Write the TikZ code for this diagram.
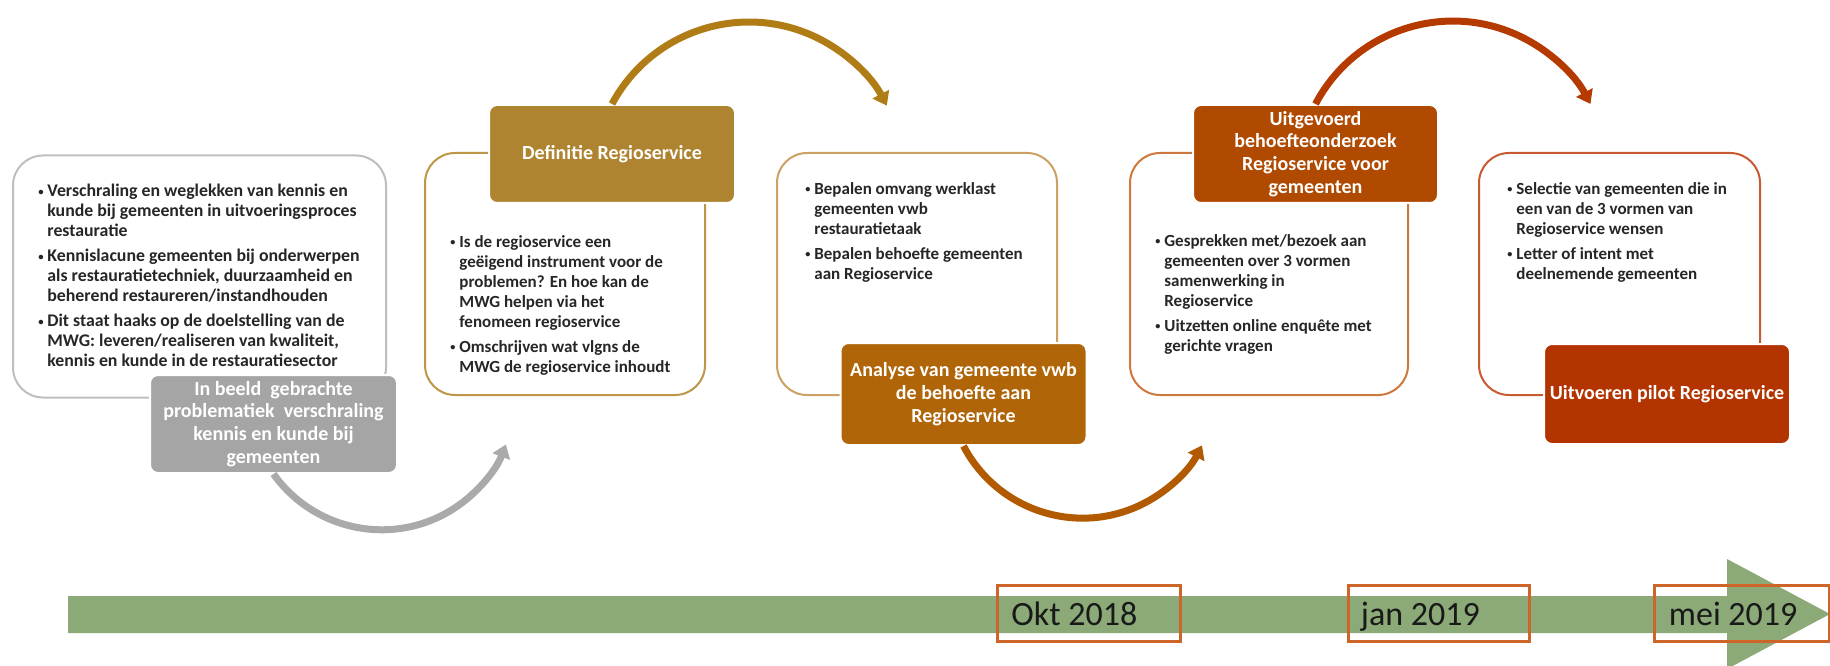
\documentclass[tikz,border=0pt]{standalone}
\usepackage{fontspec}
\setmainfont{Carlito}
\usetikzlibrary{arrows.meta}
\definecolor{cgray}{RGB}{165,165,165}
\definecolor{cgrayarc}{RGB}{170,170,170}
\definecolor{cgold}{RGB}{174,132,48}
\definecolor{cgoldarc}{RGB}{176,124,22}
\definecolor{cbrown}{RGB}{176,102,8}
\definecolor{cbrownarc}{RGB}{178,90,0}
\definecolor{crust}{RGB}{176,74,0}
\definecolor{cred}{RGB}{180,52,0}
\definecolor{credarc}{RGB}{180,58,0}
\definecolor{oline1}{RGB}{190,190,190}
\definecolor{oline2}{RGB}{190,150,70}
\definecolor{oline3}{RGB}{205,160,100}
\definecolor{oline4}{RGB}{205,120,60}
\definecolor{oline5}{RGB}{200,90,50}
\definecolor{cgreen}{RGB}{139,170,120}
\definecolor{corange}{RGB}{205,100,40}
\newcommand{\bul}{\makebox[4.5pt][l]{\raisebox{0.7pt}{\scalebox{0.6}{\textbullet}}}}
\newcommand{\ind}{\hspace*{4.5pt}}
\begin{document}
\begin{tikzpicture}[x=0.5pt,y=0.5pt,
  whitebox/.style={draw, line width=1pt, rounded corners=15pt, fill=white, minimum height=121pt, inner sep=0pt},
  colbox/.style={draw=white, line width=1pt, rounded corners=4pt, text=white, align=center, inner sep=0pt,
    font=\bfseries\fontsize{10pt}{11.4pt}\selectfont, minimum width=123pt, minimum height=49pt},
  bodytext/.style={font=\bfseries\fontsize{8.5pt}{10pt}\selectfont, align=left, inner sep=0pt, anchor=north west, text=black!85},
  arcline/.style={line width=3.5pt, -{Triangle[width=9pt,length=6.5pt]}},
  datebox/.style={draw=corange, line width=1.5pt, minimum height=28pt, inner sep=0pt},
  datetext/.style={font=\fontsize{17pt}{20pt}\selectfont, inner sep=0pt, anchor=base west, text=black!90}]
\useasboundingbox (0,0) rectangle (1830,665);
\fill[white] (0,0) rectangle (1830,665);

% white boxes
\node[whitebox, draw=oline1, minimum width=186.5pt] (w1) at (199.5,388.5) {};
\node[whitebox, draw=oline2, minimum width=140pt] (w2) at (565,391) {};
\node[whitebox, draw=oline3, minimum width=140pt] (w3) at (917,391) {};
\node[whitebox, draw=oline4, minimum width=139pt] (w4) at (1269,391) {};
\node[whitebox, draw=oline5, minimum width=140.5pt] (w5) at (1619.5,391) {};

% coloured boxes
\node[colbox, fill=cgray, minimum width=123.5pt] (c1) at (273.5,241)
  {In beeld\ \ gebrachte\\problematiek\ \ verschraling\\kennis en kunde bij\\gemeenten};
\node[colbox, fill=cgold] (c2) at (612,511) {Definitie Regioservice};
\node[colbox, fill=cbrown, minimum height=51pt] (c3) at (963.5,271)
  {Analyse van gemeente vwb\\de behoefte aan\\Regioservice};
\node[colbox, fill=crust, minimum width=122.5pt] (c4) at (1315.5,511)
  {Uitgevoerd\\behoefteonderzoek\\Regioservice voor\\gemeenten};
\node[colbox, fill=cred, minimum height=50pt] (c5) at (1667,271) {Uitvoeren pilot Regioservice};

% arcs
\draw[arcline, cgrayarc] (c1.south) arc[start angle=215.5, end angle=339, radius=66.5pt];
\draw[arcline, cgoldarc] (c2.north) arc[start angle=151.8, end angle=27.5, radius=77.7pt];
\draw[arcline, cbrownarc] (c3.south) arc[start angle=207.6, end angle=332.7, radius=67.2pt];
\draw[arcline, credarc] (c4.north) arc[start angle=152.2, end angle=27.8, radius=77.7pt];

% body texts
\node[bodytext, font=\bfseries\fontsize{8.9pt}{10pt}\selectfont] (t1) at (38,481) {\bul Verschraling en weglekken van kennis en\\\ind kunde bij gemeenten in uitvoeringsproces\\\ind restauratie\\[2.5pt]
\bul Kennislacune gemeenten bij onderwerpen\\\ind als restauratietechniek, duurzaamheid en\\\ind beherend restaureren/instandhouden\\[2.5pt]
\bul Dit staat haaks op de doelstelling van de\\\ind MWG: leveren/realiseren van kwaliteit,\\\ind kennis en kunde in de restauratiesector};
\node[bodytext] (t2) at (450,430) {\bul Is de regioservice een\\\ind geëigend instrument voor de\\\ind problemen? En hoe kan de\\\ind MWG helpen via het\\\ind fenomeen regioservice\\[2.5pt]
\bul Omschrijven wat vlgns de\\\ind MWG de regioservice inhoudt};
\node[bodytext] (t3) at (805,483) {\bul Bepalen omvang werklast\\\ind gemeenten vwb\\\ind restauratietaak\\[2.5pt]
\bul Bepalen behoefte gemeenten\\\ind aan Regioservice};
\node[bodytext] (t4) at (1155,431) {\bul Gesprekken met/bezoek aan\\\ind gemeenten over 3 vormen\\\ind samenwerking in\\\ind Regioservice\\[2.5pt]
\bul Uitzetten online enquête met\\\ind gerichte vragen};
\node[bodytext] (t5) at (1507,483) {\bul Selectie van gemeenten die in\\\ind een van de 3 vormen van\\\ind Regioservice wensen\\[2.5pt]
\bul Letter of intent met\\\ind deelnemende gemeenten};

% timeline
\fill[cgreen] (68,32) -- (1727,32) -- (1727,-4) -- (1830,51) -- (1727,106) -- (1727,69) -- (68,69) -- cycle;
\node[datebox, minimum width=91.5pt] (d1) at (1089,51.5) {};
\node[datebox, minimum width=90.5pt] (d2) at (1438.5,51.5) {};
\node[datebox, minimum width=87.5pt] (d3) at (1741.5,51.5) {};
\node[datetext] (l1) at ([xshift=7.5pt]d1.west |- 0,40) {Okt 2018};
\node[datetext] (l2) at ([xshift=7pt]d2.west |- 0,40) {jan 2019};
\node[datetext] (l3) at ([xshift=8pt]d3.west |- 0,40) {mei 2019};
\end{tikzpicture}
\end{document}
